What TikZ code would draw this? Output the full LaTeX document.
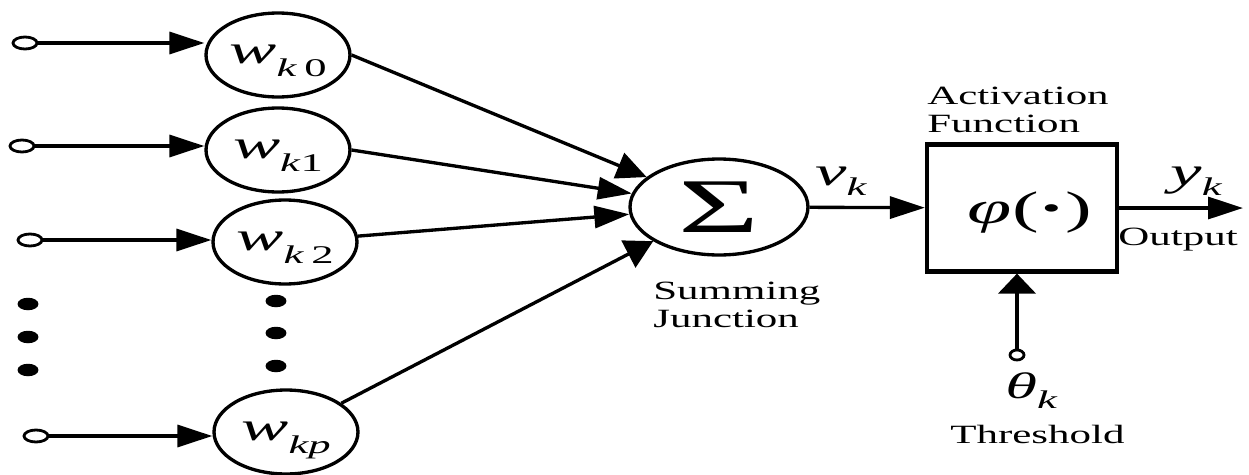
\documentclass[tikz,border=0pt]{standalone}
\usepackage{fontspec}
\setmainfont{Liberation Serif}
\usetikzlibrary{arrows.meta,shapes.geometric}
\newcommand{\hsx}[1]{\scalebox{1.75}[1]{#1}}
\newcommand{\tsx}[1]{\scalebox{1.63}[1]{#1}}
\newcommand{\wlab}[1]{\hsx{\fontsize{23}{23}\selectfont\textit{w}\raisebox{-7pt}{\fontsize{14.5}{14.5}\selectfont #1}}}
\newcommand{\sublab}[3]{\hsx{\fontsize{#1}{#1}\selectfont #2\raisebox{-5.7pt}{\fontsize{14.5}{14.5}\selectfont\textit{#3}}}}
\tikzset{
  ln/.style={line width=1.9pt},
  incirc/.style={ellipse,draw,line width=1.6pt,minimum width=0.48cm,minimum height=0.24cm,inner sep=0pt},
  wnode/.style={ellipse,draw,line width=1.9pt,minimum width=2.88cm,minimum height=1.68cm,inner sep=0pt,text height=12pt,text depth=2pt},
  dotnode/.style={ellipse,fill=black,minimum width=0.42cm,minimum height=0.25cm,inner sep=0pt},
  harr/.style={-{Triangle[length=0.7cm,width=0.44cm]}},
  varr/.style={-{Triangle[length=0.4cm,width=0.74cm]}},
  txt/.style={inner sep=0pt,font=\fontsize{15}{15.9}\selectfont},
}
\begin{document}
\begin{tikzpicture}[x=0.02cm,y=-0.02cm]
\useasboundingbox (0,0) rectangle (1249,474);
% inputs
\node[incirc] (in0) at (25,43) {};
\node[incirc] (in1) at (22,146) {};
\node[incirc] (in2) at (30,240) {};
\node[incirc] (inp) at (36,436) {};
% weights
\node[wnode] (w0) at (278,55) {\wlab{\textit{k}\,0}};
\node[wnode] (w1) at (278,150) {\wlab{\textit{k}1}};
\node[wnode] (w2) at (285,242) {\wlab{\textit{k}\,2}};
\node[wnode] (wp) at (286,432) {\wlab{\textit{kp}}};
% dots
\node[dotnode] (d1) at (28,304) {};
\node[dotnode] (d2) at (28,337) {};
\node[dotnode] (d3) at (28,370) {};
\node[dotnode] (d4) at (276,301) {};
\node[dotnode] (d5) at (276,333) {};
\node[dotnode] (d6) at (276,366) {};
% summing junction
\node[ellipse,draw,line width=1.9pt,minimum width=3.56cm,minimum height=1.92cm,inner sep=0pt] (sum) at (719,207)
  {\scalebox{1.8}[1]{\fontsize{44}{44}\selectfont Σ}};
% activation box
\node[draw,line width=2.4pt,minimum width=3.8cm,minimum height=2.54cm,inner sep=0pt] (box) at (1022,208) {};
\node[inner sep=0pt] (phi) at (1030,213) {\hsx{\fontsize{26}{26}\selectfont\textit{φ}(\textbf{·})}};
\coordinate (out) at (1243,208);
\node[incirc,minimum width=0.28cm,minimum height=0.2cm] (th) at (1017,355) {};
% connectors
\draw[ln,harr] (in0) -- (in0 -| w0.west);
\draw[ln,harr] (in1) -- (in1 -| w1.west);
\draw[ln,harr] (in2) -- (in2 -| w2.west);
\draw[ln,harr] (inp) -- (inp -| wp.west);
\draw[ln,-{Triangle[length=0.6cm,width=0.54cm]}] (w0.east) -- (sum);
\draw[ln,-{Triangle[length=0.68cm,width=0.44cm]}] (w1.east) -- (sum);
\draw[ln,harr] (w2) -- (sum);
\draw[ln,-{Triangle[length=0.56cm,width=0.6cm]}] (wp) -- (sum);
\draw[ln,harr] (sum) -- (box);
\draw[ln,harr] (box) -- (out);
\draw[ln,line width=2.4pt,varr] (th) -- (th |- box.south);
% labels
\node[txt,anchor=base west] (sj) at (653,327) {\tsx{\begin{tabular}[b]{@{}l@{}}Summing\\Junction\end{tabular}}};
\node[txt,anchor=base west] (af) at (927,132) {\tsx{\begin{tabular}[b]{@{}l@{}}Activation\\Function\end{tabular}}};
\node[txt,anchor=base west] (vk) at (815,185) {\sublab{23}{\textit{v}}{k}};
\node[txt,anchor=base west] (yk) at (1170,185) {\sublab{23}{\textit{y}}{k}};
\node[txt,anchor=base west] (tk) at (1005,398) {\sublab{21}{\textit{θ}}{k}};
\node[txt,anchor=base west] (outl) at (1118,245) {\tsx{Output}};
\node[txt,anchor=base west] (thl) at (950,443) {\tsx{Threshold}};
\end{tikzpicture}
\end{document}
